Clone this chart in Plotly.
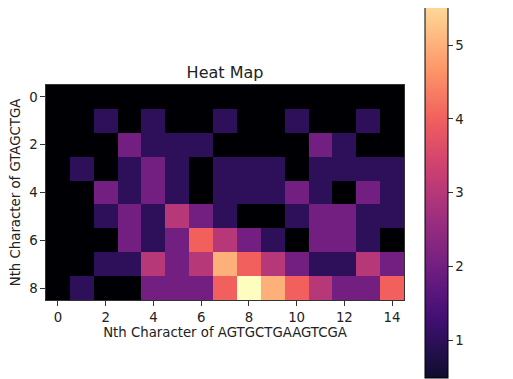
import plotly.graph_objects as go
from plotly.colors import sample_colorscale
import numpy as np

x_labels = list(range(15))
y_labels = list(range(9))
z_values = [
    [0, 0, 0, 0, 0, 0, 0, 0, 0, 0, 0, 0, 0, 0, 0],
    [0, 0, 1, 0, 1, 0, 0, 1, 0, 0, 1, 0, 0, 1, 0],
    [0, 0, 0, 2, 1, 1, 1, 0, 0, 0, 0, 2, 1, 0, 0],
    [0, 1, 0, 1, 2, 1, 0, 1, 1, 1, 0, 1, 1, 1, 1],
    [0, 0, 2, 1, 2, 1, 0, 1, 1, 1, 2, 1, 0, 2, 1],
    [0, 0, 1, 2, 1, 3, 2, 1, 0, 0, 1, 2, 2, 1, 1],
    [0, 0, 0, 2, 1, 2, 4, 3, 2, 1, 0, 2, 2, 1, 0],
    [0, 0, 1, 1, 3, 2, 3, 5, 4, 3, 2, 1, 1, 3, 2],
    [0, 1, 0, 0, 2, 2, 2, 4, 6, 5, 4, 3, 2, 2, 4],
]
z_min, z_max = 0, 6
cbar_min, cbar_max = 0.49, 5.61
cbar_ticks = [1, 2, 3, 4, 5]

font = "DejaVu Sans"
TICK_FS = 13.3
LABEL_FS = 13.3
TITLE_FS = 16

# the page body has an 8px margin; lay out relative to that offset
OFF = 8
W, H = 513, 379
PL, PR, PT, PB = 46 - OFF, 404 - OFF, 85 - OFF, 300 - OFF
pw, ph = PR - PL, PB - PT

n = 40
ts = np.linspace(cbar_min / z_max, cbar_max / z_max, n)
cols = sample_colorscale("Magma", list(ts))
cbar_scale = [[i / (n - 1), c] for i, c in enumerate(cols)]

fig = go.Figure()
fig.add_trace(go.Heatmap(
    z=z_values, x=x_labels, y=y_labels,
    colorscale="Magma", zmin=z_min, zmax=z_max,
    showscale=False, hoverongaps=False,
))
fig.add_trace(go.Scatter(
    x=[None], y=[None], mode="markers", showlegend=False,
    marker=dict(
        color=[cbar_min], colorscale=cbar_scale, cmin=cbar_min, cmax=cbar_max,
        showscale=True,
        colorbar=dict(
            x=(425 - OFF - PL) / pw, xanchor="left", xpad=0,
            y=(PB - (189 - OFF)) / ph, yanchor="middle", ypad=0,
            lenmode="pixels", len=378, thickness=23,
            outlinewidth=1, outlinecolor="black",
            tickvals=cbar_ticks, ticks="outside", ticklen=4.7, tickcolor="#333",
            tickfont=dict(family=font, size=TICK_FS, color="#222"),
        ),
    ),
))

fig.update_layout(
    width=W, height=H,
    margin=dict(l=PL, r=W - PR, t=PT, b=H - PB, autoexpand=False),
    paper_bgcolor="white", plot_bgcolor="white",
    font=dict(family=font, color="#222"),
    title=dict(text="Heat Map", x=(225 - OFF) / W, xanchor="center",
               y=1 - (72 - OFF) / H, yanchor="middle",
               font=dict(family=font, size=TITLE_FS, color="#222")),
)
fig.update_xaxes(
    range=[-0.5, 14.5], tickvals=list(range(0, 15, 2)),
    ticks="outside", ticklen=4.7, tickcolor="#333",
    showline=True, linecolor="#333", linewidth=1, mirror=True,
    showgrid=False, zeroline=False,
    tickfont=dict(family=font, size=TICK_FS, color="#222"),
    title=dict(text="Nth Character of AGTGCTGAAGTCGA", standoff=3,
               font=dict(family=font, size=LABEL_FS, color="#222")),
)
fig.update_yaxes(
    range=[8.5, -0.5], tickvals=list(range(0, 9, 2)),
    ticks="outside", ticklen=4.7, tickcolor="#333",
    showline=True, linecolor="#333", linewidth=1, mirror=True,
    showgrid=False, zeroline=False,
    tickfont=dict(family=font, size=TICK_FS, color="#222"),
    title=dict(text="Nth Character of GTAGCTGA", standoff=6,
               font=dict(family=font, size=LABEL_FS, color="#222")),
)

fig.write_html("out.html")
